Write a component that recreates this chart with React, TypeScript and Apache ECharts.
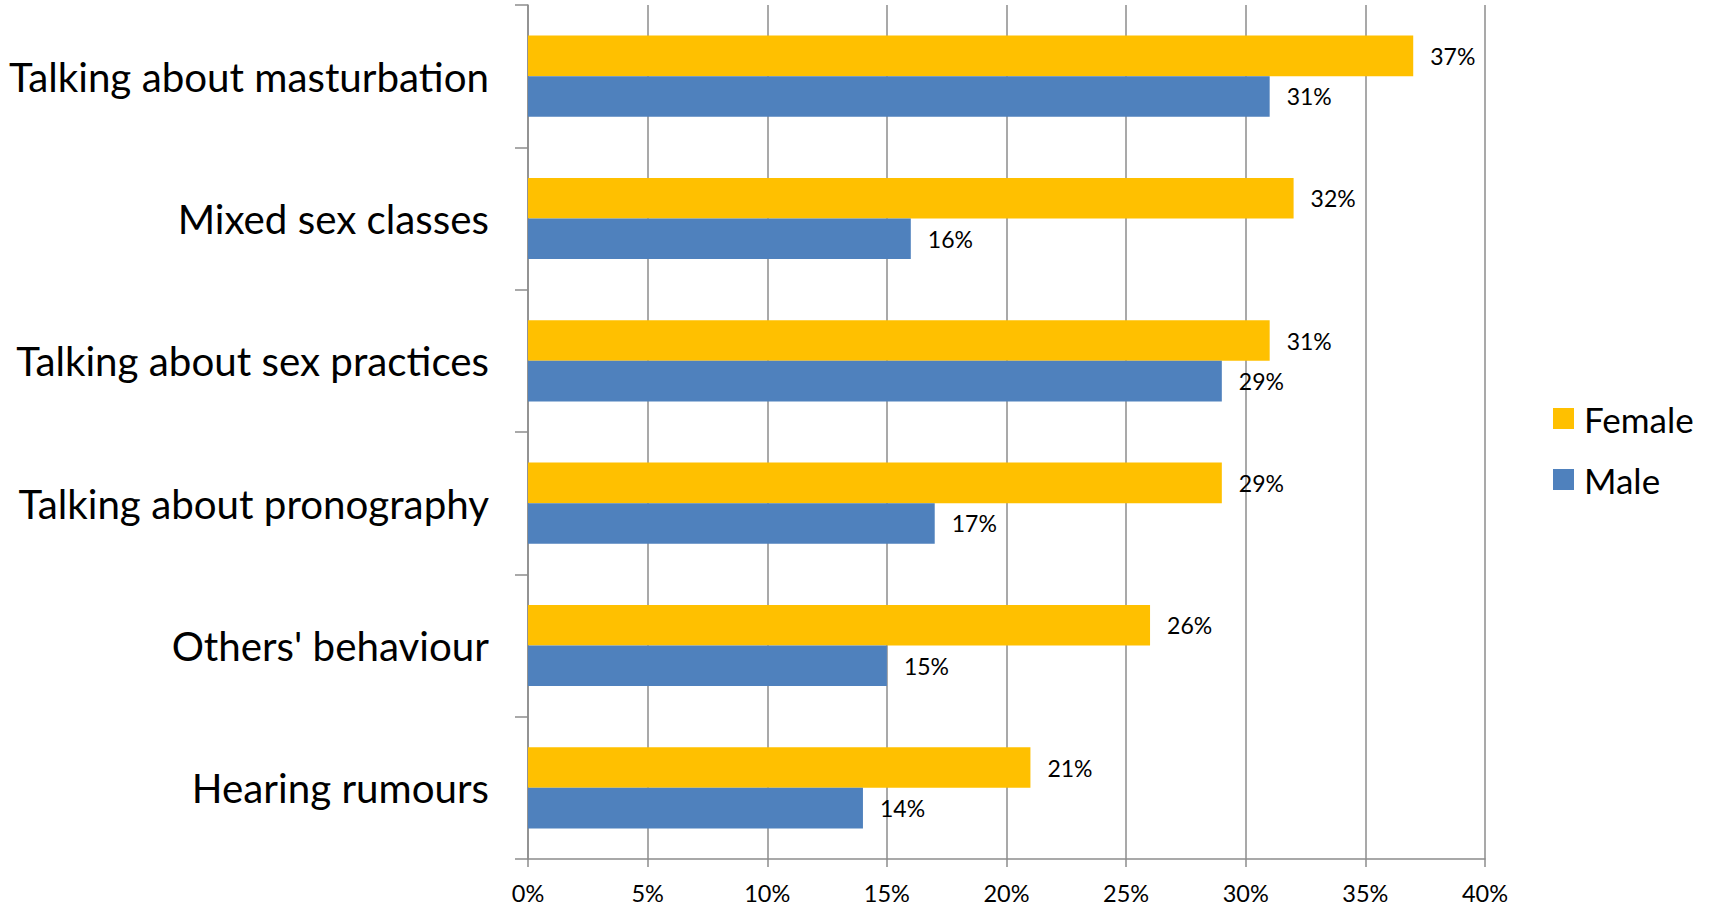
import React, { useEffect, useRef } from "react";
import * as echarts from "echarts";

const categories = [
  "Talking about masturbation",
  "Mixed sex classes",
  "Talking about sex practices",
  "Talking about pronography",
  "Others' behaviour",
  "Hearing rumours",
];
const femaleValues = [37, 32, 31, 29, 26, 21];
const maleValues = [31, 16, 29, 17, 15, 14];
const seriesNames = ["Female", "Male"];

const FONT = "Lato, 'Open Sans', sans-serif";

export default function App() {
  const ref = useRef<HTMLDivElement>(null);
  useEffect(() => {
    if (!ref.current) return;
    const chart = echarts.init(ref.current, undefined, { renderer: "svg" });
    const label = {
      show: true,
      position: "right",
      distance: 17,
      formatter: (p: any) => p.value + "%",
      color: "#000",
      fontFamily: FONT,
      fontSize: 23,
    };
    chart.setOption({
      animation: false,
      backgroundColor: "#fff",
      grid: { left: 528, top: 5, right: 228, bottom: 48, containLabel: false },
      legend: {
        orient: "vertical",
        left: 1553,
        top: 401,
        padding: 0,
        itemWidth: 21,
        itemHeight: 21,
        itemGap: 26,
        icon: "rect",
        data: seriesNames,
        textStyle: { fontFamily: FONT, fontSize: 35, color: "#000", padding: [0, 0, 0, 5] },
      },
      xAxis: {
        type: "value",
        min: 0,
        max: 40,
        interval: 5,
        axisLine: { show: true, lineStyle: { color: "#8c8c8c", width: 1.5 } },
        axisTick: { show: true, length: 8, lineStyle: { color: "#8c8c8c", width: 1.5 } },
        splitLine: { show: true, lineStyle: { color: "#8c8c8c", width: 1.5 } },
        axisLabel: {
          formatter: "{value}%",
          color: "#000",
          fontFamily: FONT,
          fontSize: 23.5,
          margin: 22,
        },
      },
      yAxis: {
        type: "category",
        inverse: true,
        data: categories,
        axisLine: { show: true, lineStyle: { color: "#8c8c8c", width: 1.5 } },
        axisTick: { show: true, length: 13, lineStyle: { color: "#8c8c8c", width: 1.5 } },
        axisLabel: { color: "#000", fontFamily: FONT, fontSize: 40.3, margin: 39 },
        splitLine: { show: false },
      },
      series: [
        {
          name: seriesNames[0],
          type: "bar",
          data: femaleValues,
          barGap: "0%",
          barCategoryGap: "43%",
          itemStyle: { color: "#FFC000" },
          label,
        },
        {
          name: seriesNames[1],
          type: "bar",
          data: maleValues,
          barGap: "0%",
          barCategoryGap: "43%",
          itemStyle: { color: "#4F81BD" },
          label,
        },
      ],
    });
    return () => chart.dispose();
  }, []);
  return <div ref={ref} style={{ width: 1713, height: 907, position: "absolute", left: 0, top: 0 }} />;
}
